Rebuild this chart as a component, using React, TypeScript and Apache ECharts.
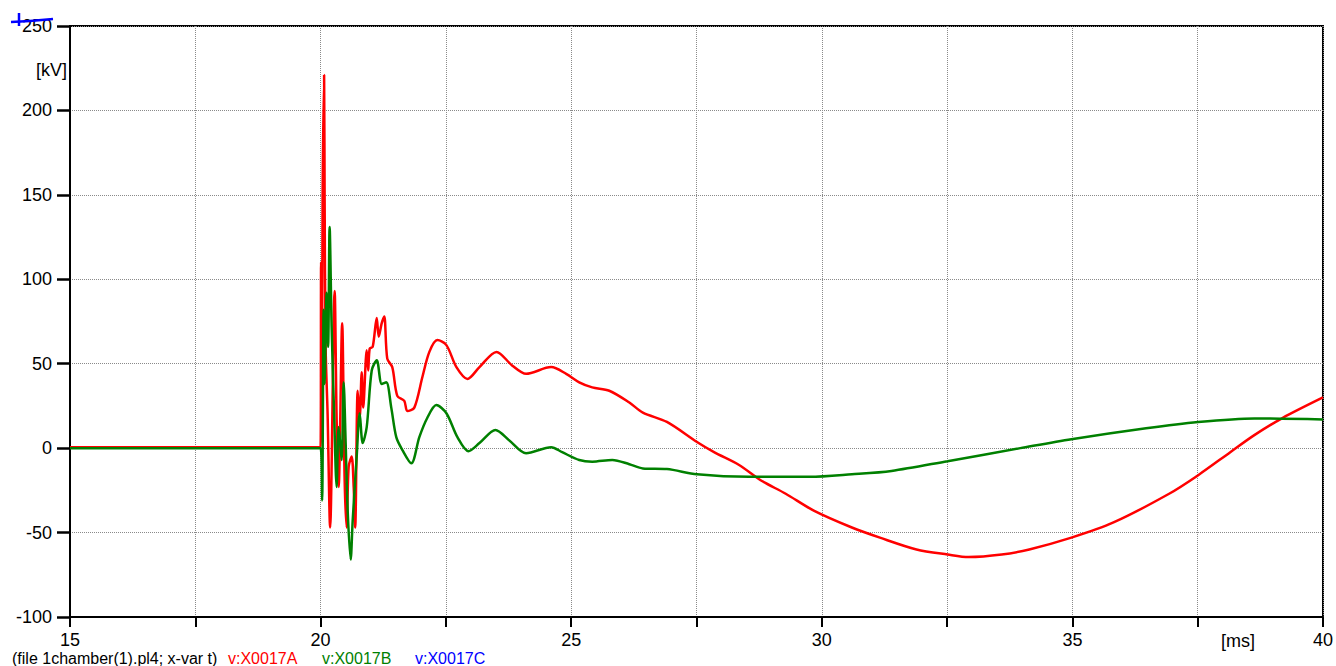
import React, { useEffect, useRef } from "react";
import * as echarts from "echarts";

// time [ms] and voltage [kV]
const timeA = [15, 20.0, 20.01, 20.03, 20.04, 20.07, 20.08, 20.1, 20.14, 20.19, 20.28, 20.32, 20.36, 20.43, 20.48, 20.52, 20.56, 20.62, 20.66, 20.69, 20.74, 20.78, 20.82, 20.85, 20.92, 20.95, 20.98, 21.04, 21.12, 21.16, 21.22, 21.27, 21.33, 21.43, 21.53, 21.67, 21.73, 21.87, 22.03, 22.17, 22.33, 22.51, 22.71, 22.93, 23.17, 23.51, 23.82, 24.1, 24.6, 24.9, 25.16, 25.42, 25.76, 26.16, 26.43, 26.91, 27.51, 27.85, 28.35, 28.78, 29.28, 29.84, 30.6, 31.16, 31.89, 32.51, 32.93, 33.59, 34.14, 34.98, 35.82, 36.93, 37.51, 38.15, 38.63, 39.19, 40.0];
const voltA = [0.5, 0.5, 110, 60, 150, 221, 150, 60, 20, -47, 93, 17, -23, 74, -19, -47, -11, -5, -23, -47, 34, 18, 45, 24, 58, 46, 59, 60, 77, 66, 74, 78, 53, 48, 31, 28, 22, 24, 42, 57, 64, 61, 48, 41, 48, 57, 49, 44, 48, 44, 39, 36, 34, 27, 21, 15.5, 3.6, -2.4, -10, -19, -27, -37, -47, -53, -60, -63, -64.5, -63, -60, -53, -44, -27, -16, -2.4, 7.7, 17.8, 30];

const timeB = [15, 20.0, 20.03, 20.06, 20.08, 20.12, 20.15, 20.18, 20.22, 20.27, 20.32, 20.36, 20.42, 20.46, 20.5, 20.54, 20.6, 20.64, 20.72, 20.78, 20.84, 20.92, 21.02, 21.12, 21.22, 21.31, 21.41, 21.51, 21.63, 21.81, 21.97, 22.13, 22.31, 22.51, 22.73, 22.95, 23.17, 23.49, 23.76, 24.1, 24.6, 24.82, 25.16, 25.42, 25.82, 26.16, 26.43, 26.91, 27.51, 28.55, 29.76, 30.6, 31.39, 32.51, 33.96, 34.98, 36.47, 37.51, 38.63, 40.0];
const voltB = [0, 0, -31, 82, 38, 92, 60, 131, 72, 20, -23, 12.5, -7, 39, 3, -37, -66, -43, -5, 20.7, 3, 12.4, 46, 52, 38, 39, 24, 6.5, -1, -9, 6.5, 18, 25.5, 20.7, 6.5, -1.8, 3, 10.7, 4.7, -3, 0.6, -2.4, -7, -8, -7, -9.5, -12, -12.4, -15.5, -17, -17, -15.5, -13.5, -7.7, 0, 5.3, 11.8, 15.5, 17.6, 17];

const seriesNames = ["v:X0017A", "v:X0017B", "v:X0017C"];
const seriesColors = ["#ff0000", "#008000", "#0000ff"];
const yTicks = [-100, -50, 0, 50, 100, 150, 200, 250];
const xLabelTicks = [15, 20, 25, 30, 35, 40];
const fileLabel = "(file 1chamber(1).pl4; x-var t)";

const FONT = "'Liberation Sans', Arial, sans-serif";

export default function App() {
  const ref = useRef<HTMLDivElement>(null);
  useEffect(() => {
    if (!ref.current) return;
    const chart = echarts.init(ref.current, null, { renderer: "svg" });
    const dataA = timeA.map((t, i) => [t, voltA[i]]);
    const dataB = timeB.map((t, i) => [t, voltB[i]]);
    const legendX = [228, 322, 415];
    chart.setOption({
      animation: false,
      backgroundColor: "#ffffff",
      grid: {
        left: 70,
        right: 11,
        top: 26,
        bottom: 49,
        show: true,
        borderColor: "#000",
        borderWidth: 2,
        containLabel: false,
      },
      xAxis: {
        type: "value",
        min: 15,
        max: 40,
        interval: 2.5,
        axisLine: { show: true, onZero: false, lineStyle: { color: "#000", width: 2 } },
        axisTick: { show: true, inside: false, length: 10, lineStyle: { color: "#000", width: 2 } },
        axisLabel: {
          show: true,
          margin: 14,
          color: "#000",
          fontSize: 18,
          fontFamily: FONT,
          formatter: (v: number) => (xLabelTicks.includes(v) ? String(v) : ""),
        },
        splitLine: { show: true, lineStyle: { color: "#8a8a8a", type: "dotted", width: 1 } },
      },
      yAxis: {
        type: "value",
        position: "left",
        min: yTicks[0],
        max: yTicks[yTicks.length - 1],
        interval: 50,
        axisLine: { show: true, onZero: false, lineStyle: { color: "#000", width: 2 } },
        axisTick: { show: true, inside: false, length: 13, lineStyle: { color: "#000", width: 2.5 } },
        axisLabel: {
          show: true,
          margin: 18,
          color: "#000",
          fontSize: 18,
          fontFamily: FONT,
        },
        splitLine: { show: true, lineStyle: { color: "#8a8a8a", type: "dotted", width: 1 } },
      },
      series: [
        {
          name: seriesNames[0],
          type: "line",
          data: dataA,
          showSymbol: false,
          symbol: "none",
          smooth: 0.3,
          lineStyle: { color: seriesColors[0], width: 2.5 },
          z: 3,
        },
        {
          name: seriesNames[1],
          type: "line",
          data: dataB,
          showSymbol: false,
          symbol: "none",
          smooth: 0.3,
          lineStyle: { color: seriesColors[1], width: 2.5 },
          z: 4,
        },
      ],
      graphic: [
        {
          type: "text",
          x: 67,
          y: 70,
          style: { text: "[kV]", fill: "#000", font: `18px ${FONT}`, align: "right", verticalAlign: "middle" },
        },
        {
          type: "text",
          x: 1238,
          y: 641,
          style: { text: "[ms]", fill: "#000", font: `18px ${FONT}`, align: "center", verticalAlign: "middle" },
        },
        {
          type: "text",
          x: 12,
          y: 658,
          style: { text: fileLabel, fill: "#000", font: `16px ${FONT}`, align: "left", verticalAlign: "middle" },
        },
        ...seriesNames.map((n, i) => ({
          type: "text",
          x: legendX[i],
          y: 658,
          style: { text: n, fill: seriesColors[i], font: `16px ${FONT}`, align: "left", verticalAlign: "middle" },
        })),
        {
          type: "polyline",
          shape: { points: [[11, 22], [30, 21], [53, 19]] },
          style: { stroke: "#0000ff", lineWidth: 2.5, fill: "none" },
          z: 100,
        },
        {
          type: "line",
          shape: { x1: 19, y1: 13, x2: 19, y2: 26 },
          style: { stroke: "#0000ff", lineWidth: 2.5 },
          z: 100,
        },
      ],
    });
    return () => chart.dispose();
  }, []);
  return (
    <div
      ref={ref}
      style={{ position: "fixed", left: 0, top: 0, width: 1336, height: 666, background: "#fff" }}
    />
  );
}
